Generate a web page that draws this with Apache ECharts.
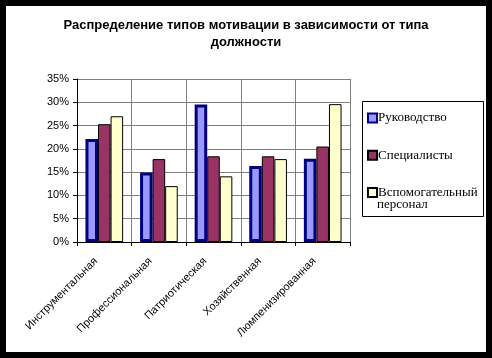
<!DOCTYPE html>
<html>
<head>
<meta charset="utf-8">
<script src="https://cdn.jsdelivr.net/npm/echarts@6/dist/echarts.min.js"></script>
<style>
html,body{margin:0;padding:0;background:#fff;}
#c{width:492px;height:358px;box-sizing:border-box;border:6px solid #000;}
</style>
</head>
<body>
<div id="c"></div>
<script>
const categories = ['Инструментальная','Профессиональная','Патриотическая','Хозяйственная','Люмпенизированная'];
const seriesNames = ['Руководство','Специалисты','Вспомогательный персонал'];
const rukovodstvo = [22.1, 14.9, 29.5, 16.3, 17.9];
const specialisty = [25.3, 17.8, 18.4, 18.4, 20.5];
const vspomogatelny = [27.0, 12.0, 14.1, 17.8, 29.6];
const yTicks = [0,5,10,15,20,25,30,35];

const chart = echarts.init(document.getElementById('c'), null, {renderer:'canvas'});
const font = "'Liberation Sans', Arial, sans-serif";
const serif = "'Liberation Serif', 'Times New Roman', serif";

chart.setOption({
  animation:false,
  backgroundColor:'#fff',
  title:{
    text:'Распределение типов мотивации в зависимости от типа\nдолжности',
    left:'center', top:6,
    textStyle:{fontFamily:font, fontSize:13, fontWeight:'bold', color:'#000', lineHeight:17}
  },
  legend:{
    orient:'vertical',
    left:361, top:105,
    padding:0,
    itemWidth:9, itemHeight:9,
    itemGap:23.3,
    icon:'rect',
    data:seriesNames,
    formatter:function(n){ return n==='Вспомогательный персонал' ? 'Вспомогательный' : n; },
    textStyle:{fontFamily:serif, fontSize:13, color:'#000', lineHeight:14, padding:[0,0,0,-4]}
  },
  graphic:[
    {type:'rect', shape:{x:356.5, y:95.5, width:121, height:115}, style:{fill:null, stroke:'#000', lineWidth:1}, silent:true, z:-1},
    {type:'text', left:371, top:192, style:{text:'персонал', font:"13px 'Liberation Serif', serif", fill:'#000'}}
  ],
  grid:{left:71, top:73, right:136, bottom:110, containLabel:false},
  xAxis:{
    type:'category',
    data:categories,
    boundaryGap:true,
    axisLine:{show:true, lineStyle:{color:'#000', width:1}},
    axisTick:{show:true, length:4, lineStyle:{color:'#000'}},
    splitLine:{show:true, lineStyle:{color:'#808080', width:1}},
    axisLabel:{interval:0, rotate:45, margin:9, fontFamily:font, fontSize:11, color:'#000', padding:[0,12,0,0]}
  },
  yAxis:{
    type:'value',
    min:0, max:35, interval:5,
    axisLine:{show:true, lineStyle:{color:'#000', width:1}},
    axisTick:{show:true, length:4, lineStyle:{color:'#000'}},
    splitLine:{show:true, lineStyle:{color:'#808080', width:1}},
    axisLabel:{margin:8, fontFamily:font, fontSize:11, color:'#000', formatter:function(v){return v+'%';}}
  },
  series:[
    {name:seriesNames[0], type:'bar', data:rukovodstvo, barGap:'0%', barCategoryGap:'31%',
     itemStyle:{color:'#9999FF', borderColor:'#000080', borderWidth:3}},
    {name:seriesNames[1], type:'bar', data:specialisty, barGap:'0%', barCategoryGap:'31%',
     itemStyle:{color:'#993366', borderColor:'#000', borderWidth:1}},
    {name:seriesNames[2], type:'bar', data:vspomogatelny, barGap:'0%', barCategoryGap:'31%',
     itemStyle:{color:'#FFFFCC', borderColor:'#000', borderWidth:1}}
  ]
});
</script>
</body>
</html>
